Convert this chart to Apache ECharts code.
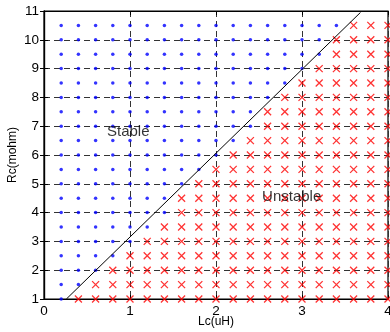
<!DOCTYPE html>
<html>
<head>
<meta charset="utf-8">
<script src="https://cdn.jsdelivr.net/npm/echarts@6/dist/echarts.min.js"></script>
<style>
html,body{margin:0;padding:0;background:#fff;}
#c{width:390px;height:332px;}
</style>
</head>
<body>
<div id="c"></div>
<script>
// Lc (uH) grid columns and Rc (mohm) grid rows
const lcValues = [0.2,0.4,0.6,0.8,1.0,1.2,1.4,1.6,1.8,2.0,2.2,2.4,2.6,2.8,3.0,3.2,3.4,3.6,3.8,4.0];
const rcValues = [1,1.5,2,2.5,3,3.5,4,4.5,5,5.5,6,6.5,7,7.5,8,8.5,9,9.5,10,10.5];
// lowest Rc that is stable in each Lc column (null: none stable)
const stableMinRc = [1,1.5,2,2.5,3,3.5,4,5,5.5,6,6.5,7,8,8.5,9,9.5,10.5,null,null,null];
// boundary line
const boundaryLc = [0.26, 3.68];
const boundaryRc = [1, 10.95];
const xTicks = [0,1,2,3,4];
const yTicks = [1,2,3,4,5,6,7,8,9,10,11];
const labels = [{text:'Stable', lc:0.98, rc:6.8}, {text:'Unstable', lc:2.88, rc:4.55}];

const stablePts = [], unstablePts = [];
lcValues.forEach((lc, i) => {
  rcValues.forEach(rc => {
    const m = stableMinRc[i];
    if (m !== null && rc >= m) stablePts.push([lc, rc]);
    else unstablePts.push([lc, rc]);
  });
});

const font = '"Liberation Sans", Arial, Helvetica, sans-serif';
const gridLine = {show:true, lineStyle:{color:'#333', width:1, type:[6,4]}};
const chart = echarts.init(document.getElementById('c'), null, {renderer:'canvas'});
chart.setOption({
  animation:false,
  backgroundColor:'#fff',
  grid:{left:44, right:2, top:11, bottom:33, show:true, borderColor:'#000', borderWidth:1.2,
        containLabel:false, outerBoundsMode:'none'},
  xAxis:[{
    type:'value', min:xTicks[0], max:xTicks[xTicks.length-1], interval:1,
    name:'Lc(uH)', nameLocation:'middle', nameGap:17, nameMoveOverlap:false,
    nameTextStyle:{fontFamily:font, fontSize:12, color:'#000'},
    axisLine:{show:true, onZero:false, lineStyle:{color:'#000', width:1.2}},
    axisTick:{show:true, inside:true, length:4, lineStyle:{color:'#000'}},
    axisLabel:{fontFamily:font, fontSize:13.5, color:'#000', margin:5},
    splitLine:gridLine
  },{
    type:'value', position:'top', min:xTicks[0], max:xTicks[xTicks.length-1], interval:1,
    axisLine:{show:true, lineStyle:{color:'#000', width:1.2}},
    axisTick:{show:true, inside:true, length:4, lineStyle:{color:'#000'}},
    axisLabel:{show:false}, splitLine:{show:false}
  }],
  yAxis:[{
    type:'value', min:yTicks[0], max:yTicks[yTicks.length-1], interval:1,
    name:'Rc(mohm)', nameLocation:'middle', nameGap:25, nameRotate:90, nameMoveOverlap:false,
    nameTextStyle:{fontFamily:font, fontSize:12, color:'#000'},
    axisLine:{show:true, onZero:false, lineStyle:{color:'#000', width:1.2}},
    axisTick:{show:true, inside:true, length:4, lineStyle:{color:'#000'}},
    axisLabel:{fontFamily:font, fontSize:13.5, color:'#000', margin:5},
    splitLine:gridLine
  },{
    type:'value', position:'right', min:yTicks[0], max:yTicks[yTicks.length-1], interval:1,
    axisLine:{show:true, lineStyle:{color:'#000', width:1.2}},
    axisTick:{show:true, inside:true, length:4, lineStyle:{color:'#000'}},
    axisLabel:{show:false}, splitLine:{show:false}
  }],
  series:[
    {type:'scatter', data:stablePts, symbol:'circle', symbolSize:3.5, clip:false,
     itemStyle:{color:'#0000ff'}, silent:true, z:3},
    {type:'scatter', data:unstablePts, symbol:'path://M0,0L10,10M10,0L0,10', symbolSize:7, clip:false,
     itemStyle:{color:'none', borderColor:'#ff0000', borderWidth:1.3}, silent:true, z:3},
    {type:'line', data:boundaryLc.map((v,i)=>[v, boundaryRc[i]]), symbol:'none',
     lineStyle:{color:'#000', width:1}, silent:true, z:4},
    {type:'scatter', data:labels.map(l=>({value:[l.lc,l.rc], name:l.text})), symbolSize:0, silent:true, z:5,
     label:{show:true, position:'inside', formatter:p=>p.name, fontFamily:font, fontSize:15, color:'#000'}}
  ]
});
</script>
</body>
</html>
